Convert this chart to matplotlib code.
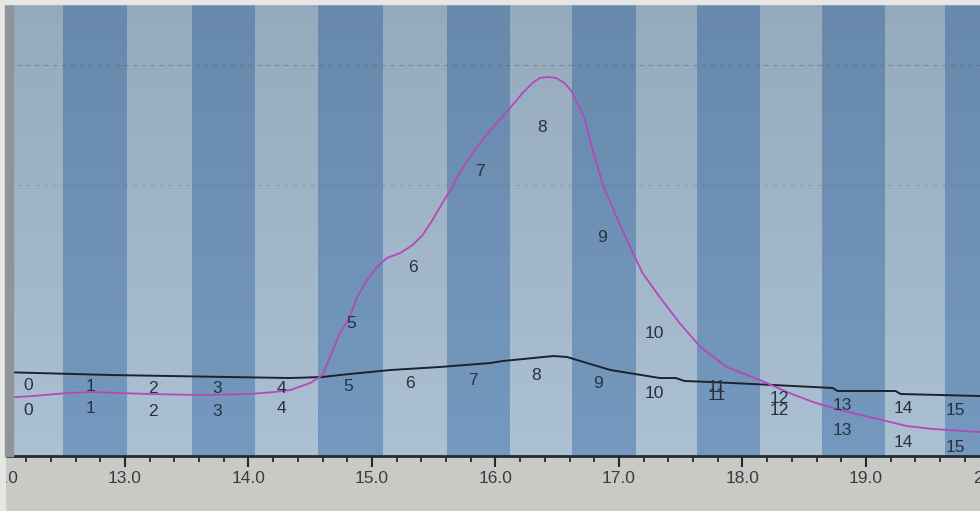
import numpy as np
import matplotlib
matplotlib.use("Agg")
import matplotlib.pyplot as plt
from matplotlib.patches import Rectangle
from matplotlib.ticker import MultipleLocator, FormatStrFormatter

# elution volume (ml) and detector traces
uv_ml = [11.99, 12.26, 12.53, 12.74, 12.94, 13.20, 13.61, 14.01, 14.21, 14.34,
         14.50, 14.60, 14.66, 14.74, 14.82, 14.88, 14.96, 15.04, 15.12, 15.23,
         15.33, 15.41, 15.49, 15.57, 15.65, 15.69, 15.74, 15.85, 15.96, 16.09,
         16.22, 16.30, 16.36, 16.42, 16.49, 16.56, 16.62, 16.67, 16.72, 16.78,
         16.87, 16.98, 17.09, 17.19, 17.33, 17.49, 17.66, 17.87, 18.14, 18.36,
         18.57, 18.79, 19.06, 19.33, 19.54, 19.92]
uv_abs = [58, 60, 63, 64, 63, 62, 61, 62, 64, 66,
          73, 81, 99, 123, 139, 159, 176, 189, 198, 203,
          211, 221, 236, 253, 269, 279, 289, 309, 326, 344,
          363, 373, 378, 379, 378, 373, 364, 351, 338, 309,
          271, 239, 209, 183, 159, 133, 109, 89, 76, 64,
          54, 46, 38, 30, 27, 24]

cond_ml = [11.99, 12.88, 13.83, 14.34, 14.60, 14.74, 15.15, 15.55, 15.96, 16.06,
           16.47, 16.58, 16.74, 16.93, 17.33, 17.46, 17.53, 17.74, 18.25, 18.73,
           18.77, 19.24, 19.28, 19.92]
cond = [84, 81, 79, 78, 79, 81, 86, 89, 93, 95,
        100, 99, 93, 86, 78, 78, 75, 74, 71, 68,
        65, 65, 62, 60]

# fraction boundaries (ml) and label placements
frac_edges = [11.98, 12.50, 13.02, 13.54, 14.05, 14.56, 15.09, 15.61, 16.12,
              16.62, 17.14, 17.63, 18.14, 18.64, 19.15, 19.64, 20.15]
frac_names = [str(i) for i in range(16)]
uv_lab_x = [12.22, 12.72, 13.23, 13.75, 14.27, 14.83, 15.33, 15.87, 16.38,
            16.86, 17.29, 17.79, 18.30, 18.81, 19.30, 19.72]
uv_lab_y = [46, 48, 45, 45, 48, 133, 188, 284, 328, 219, 122, 61, 46, 26, 14, 9]
cond_lab_x = [12.22, 12.72, 13.23, 13.75, 14.27, 14.81, 15.31, 15.82, 16.33,
              16.83, 17.29, 17.79, 18.30, 18.81, 19.30, 19.72]
cond_lab_y = [71, 70, 68, 68, 68, 70, 73, 76, 81, 73, 63, 69, 58, 51, 48, 46]

LIGHT = "#abc0d2"
DARK = "#7599be"
W, H = 980, 511

fig = plt.figure(figsize=(W / 100, H / 100), dpi=100, facecolor="#c9cac6")
ax = fig.add_axes([-10 / W, (H - 456) / H, 1010 / W, (456 - 4) / H])
ax.set_xlim(11.907, 20.085)
ax.set_ylim(0, 452)
ax.set_facecolor(LIGHT)

for i in range(len(frac_edges) - 1):
    ax.axvspan(frac_edges[i], frac_edges[i + 1], color=LIGHT if i % 2 == 0 else DARK,
               lw=0, zorder=0)

# screen darkens towards the top of the photo
shade = np.zeros((100, 2, 4))
shade[:, :, :3] = [0.12, 0.2, 0.3]
shade[:, :, 3] = np.linspace(0.0, 0.16, 100)[:, None]
ax.imshow(shade, extent=(0, 1, 0, 1), transform=ax.transAxes, aspect="auto",
          origin="lower", zorder=1)

for gy, a in [(391, 0.45), (271, 0.25)]:
    ax.axhline(gy, color="#4d5f72", lw=0.8, ls=(0, (4, 4)), alpha=a, zorder=1)

ax.plot(cond_ml, cond, color="#1c222c", lw=1.4, zorder=3)
ax.plot(uv_ml, uv_abs, color="#b548b8", lw=1.3, zorder=4)

lab_kw = dict(ha="center", va="center", fontsize=12.5, color="#27323e",
              family="Liberation Sans", zorder=5)
for name, x, y in zip(frac_names, uv_lab_x, uv_lab_y):
    ax.text(x, y, name, **lab_kw)
for name, x, y in zip(frac_names, cond_lab_x, cond_lab_y):
    ax.text(x, y, name, **lab_kw)

for side in ["top", "right", "left"]:
    ax.spines[side].set_visible(False)
ax.spines["bottom"].set_color("#262a2e")
ax.spines["bottom"].set_linewidth(2)

ax.xaxis.set_major_locator(MultipleLocator(1.0))
ax.xaxis.set_minor_locator(MultipleLocator(0.2))
ax.xaxis.set_major_formatter(FormatStrFormatter("%.1f"))
ax.tick_params(axis="x", which="major", length=8, width=1.5, color="#262a2e",
               labelsize=12.5, labelcolor="#3a3d40", pad=3)
ax.tick_params(axis="x", which="minor", length=4, width=1.3, color="#262a2e")
for lab in ax.get_xticklabels():
    lab.set_family("Liberation Sans")
ax.set_yticks([])

# photo border at the top and left
fig.patches.append(Rectangle((0, 0), 5 / W, 1, transform=fig.transFigure,
                             color="#e6e6e4", zorder=10))
fig.patches.append(Rectangle((5 / W, (H - 456) / H), 8 / W, (456 - 4) / H,
                             transform=fig.transFigure, color="#8f9498", zorder=10))
fig.patches.append(Rectangle((0, 1 - 4 / H), 1, 4 / H, transform=fig.transFigure,
                             color="#e6e6e4", zorder=10))

fig.savefig("out.png", dpi=100, facecolor=fig.get_facecolor())
